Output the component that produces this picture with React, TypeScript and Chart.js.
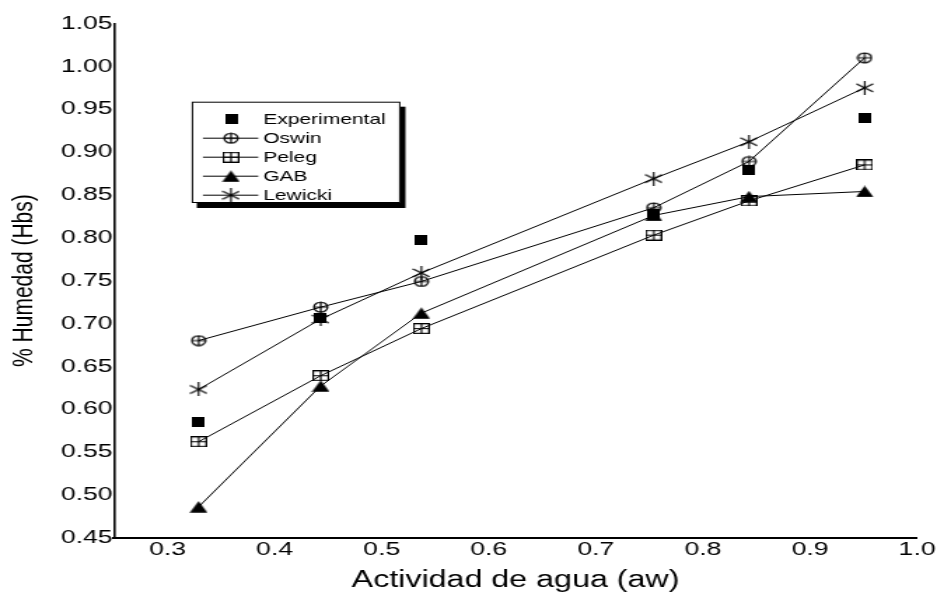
import { useEffect, useRef } from "react";
import { Chart, registerables } from "chart.js";

Chart.register(...registerables);

// Water activity (aw) of each equilibrium point
const AW = [0.329, 0.443, 0.537, 0.754, 0.843, 0.951];

// Moisture content (dry basis) — measured and fitted isotherm models
const EXPERIMENTAL = [0.585, 0.706, 0.797, 0.828, 0.879, 0.94];
const OSWIN = [0.68, 0.719, 0.749, 0.835, 0.889, 1.01];
const PELEG = [0.562, 0.639, 0.694, 0.803, 0.843, 0.885];
const GAB = [0.486, 0.627, 0.712, 0.826, 0.848, 0.854];
const LEWICKI = [0.623, 0.705, 0.759, 0.869, 0.912, 0.975];

const SERIES_NAMES = ["Experimental", "Oswin", "Peleg", "GAB", "Lewicki"];

const X_TICKS = [0.3, 0.4, 0.5, 0.6, 0.7, 0.8, 0.9, 1.0];
const Y_TICKS = [0.45, 0.5, 0.55, 0.6, 0.65, 0.7, 0.75, 0.8, 0.85, 0.9, 0.95, 1.0, 1.05];

const X_TITLE = "Actividad de agua (aw)";
const Y_TITLE = "% Humedad (Hbs)";

// The drawing is rendered on a narrower canvas and widened by CSS.
const OUT_W = 937;
const OUT_H = 596;
const CANVAS_W = 669;
const FONT = '"Liberation Sans", Arial, sans-serif';

type MarkerKind = "exp" | "oswin" | "peleg" | "gab" | "lewicki";

function makeMarker(kind: MarkerKind): HTMLCanvasElement {
  const sizes: Record<MarkerKind, [number, number]> = {
    exp: [9, 10],
    oswin: [12, 12],
    peleg: [12, 11],
    gab: [13, 12],
    lewicki: [13, 14],
  };
  const [w, h] = sizes[kind];
  const c = document.createElement("canvas");
  c.width = w;
  c.height = h;
  const g = c.getContext("2d")!;
  g.fillStyle = "#000";
  g.strokeStyle = "#000";
  g.lineWidth = 1.2;
  g.beginPath();
  if (kind === "exp") {
    g.fillRect(0, 0, w, h);
  } else if (kind === "oswin") {
    g.arc(6, 6, 4.9, 0, Math.PI * 2);
    g.moveTo(6, 0.6);
    g.lineTo(6, 11.4);
    g.moveTo(0.8, 6);
    g.lineTo(11.2, 6);
    g.stroke();
  } else if (kind === "peleg") {
    g.rect(0.6, 0.6, 10.8, 9.8);
    g.moveTo(6, 0.6);
    g.lineTo(6, 10.4);
    g.moveTo(0.6, 5.5);
    g.lineTo(11.4, 5.5);
    g.stroke();
  } else if (kind === "gab") {
    g.moveTo(6.5, 0.3);
    g.lineTo(12.8, 11.8);
    g.lineTo(0.2, 11.8);
    g.closePath();
    g.fill();
  } else {
    g.moveTo(6.5, 0);
    g.lineTo(6.5, 14);
    g.moveTo(0.5, 3);
    g.lineTo(12.5, 11);
    g.moveTo(0.5, 11);
    g.lineTo(12.5, 3);
    g.stroke();
  }
  return c;
}

const points = (ys: number[]) => AW.map((x, i) => ({ x, y: ys[i] }));

export default function App() {
  const ref = useRef<HTMLCanvasElement | null>(null);

  useEffect(() => {
    const canvas = ref.current;
    if (!canvas) return;

    const markers = {
      exp: makeMarker("exp"),
      oswin: makeMarker("oswin"),
      peleg: makeMarker("peleg"),
      gab: makeMarker("gab"),
      lewicki: makeMarker("lewicki"),
    };
    const legendMarkers = [markers.exp, markers.oswin, markers.peleg, markers.gab, markers.lewicki];

    // Boxed legend with a drop shadow, placed inside the plot area
    const boxLegend = {
      id: "boxLegend",
      afterDraw(chart: Chart) {
        const { ctx, chartArea } = chart;
        const x0 = chartArea.left + 55.5;
        const y0 = chartArea.top + 78.2;
        const w = 149;
        const h = 101.3;
        ctx.save();
        ctx.fillStyle = "#000";
        ctx.fillRect(x0 + 3.6, y0 + 5, w, h);
        ctx.fillStyle = "#fff";
        ctx.fillRect(x0, y0, w, h);
        ctx.strokeStyle = "#000";
        ctx.lineWidth = 1;
        ctx.strokeRect(x0 + 0.5, y0 + 0.5, w - 1, h - 1);

        ctx.font = `15px ${FONT}`;
        ctx.textBaseline = "middle";
        ctx.textAlign = "left";
        SERIES_NAMES.forEach((name, i) => {
          const cy = y0 + 17.5 + i * 19;
          if (i > 0) {
            ctx.beginPath();
            ctx.moveTo(x0 + 8, cy);
            ctx.lineTo(x0 + 47.5, cy);
            ctx.lineWidth = 1;
            ctx.stroke();
          }
          const img = legendMarkers[i];
          const cx = x0 + (i === 0 ? 29 : 28);
          ctx.drawImage(img, cx - img.width / 2, cy - img.height / 2);
          ctx.fillStyle = "#000";
          ctx.fillText(name, x0 + 51, cy + 0.5);
        });
        ctx.restore();
      },
    };

    const lineSet = (label: string, ys: number[], img: HTMLCanvasElement, order: number) => ({
      label,
      data: points(ys),
      showLine: true,
      borderColor: "#000",
      borderWidth: 1,
      pointStyle: img,
      pointRadius: 6,
      order,
    });

    const chart = new Chart(canvas, {
      type: "scatter",
      data: {
        datasets: [
          {
            label: SERIES_NAMES[0],
            data: points(EXPERIMENTAL),
            showLine: false,
            pointStyle: markers.exp,
            pointRadius: 6,
            order: 1,
          },
          lineSet(SERIES_NAMES[1], OSWIN, markers.oswin, 0),
          lineSet(SERIES_NAMES[2], PELEG, markers.peleg, 3),
          lineSet(SERIES_NAMES[3], GAB, markers.gab, 4),
          lineSet(SERIES_NAMES[4], LEWICKI, markers.lewicki, 2),
        ],
      },
      options: {
        animation: false,
        responsive: false,
        devicePixelRatio: 1,
        layout: { padding: { top: 23.5, right: 13.3, left: 0, bottom: 0 } },
        plugins: {
          legend: { display: false },
          tooltip: { enabled: false },
        },
        scales: {
          x: {
            type: "linear",
            min: 0.25,
            max: 1.0,
            grid: { display: false, drawTicks: false },
            border: { display: true, color: "#000", width: 2 },
            afterBuildTicks: (s: any) => {
              s.ticks = X_TICKS.map((value) => ({ value }));
            },
            afterFit: (s: any) => {
              s.height = OUT_H - 537.7;
            },
            ticks: {
              color: "#000",
              padding: 1,
              maxRotation: 0,
              autoSkip: false,
              font: { family: FONT, size: 19 },
              callback: (v: any) => Number(v).toFixed(1),
            },
            title: {
              display: true,
              text: X_TITLE,
              color: "#000",
              font: { family: FONT, size: 23 },
              padding: { top: 0, bottom: 2 },
            },
          },
          y: {
            type: "linear",
            min: 0.45,
            max: 1.05,
            grid: { display: false, drawTicks: false },
            border: { display: true, color: "#000", width: 1.6 },
            afterBuildTicks: (s: any) => {
              s.ticks = Y_TICKS.map((value) => ({ value }));
            },
            afterFit: (s: any) => {
              s.width = 114 / (OUT_W / CANVAS_W);
            },
            ticks: {
              color: "#000",
              padding: 1,
              autoSkip: false,
              font: { family: FONT, size: 19 },
              callback: (v: any) => Number(v).toFixed(2),
            },
            title: {
              display: true,
              text: Y_TITLE,
              color: "#000",
              font: { family: FONT, size: 21 },
              padding: { top: 5, bottom: 0 },
            },
          },
        },
      },
      plugins: [boxLegend],
    });

    return () => chart.destroy();
  }, []);

  return (
    <div style={{ position: "absolute", left: 0, top: 0, width: OUT_W, height: OUT_H, background: "#fff" }}>
      <canvas
        ref={ref}
        width={CANVAS_W}
        height={OUT_H}
        style={{ width: `${OUT_W}px`, height: `${OUT_H}px`, display: "block" }}
      />
    </div>
  );
}
